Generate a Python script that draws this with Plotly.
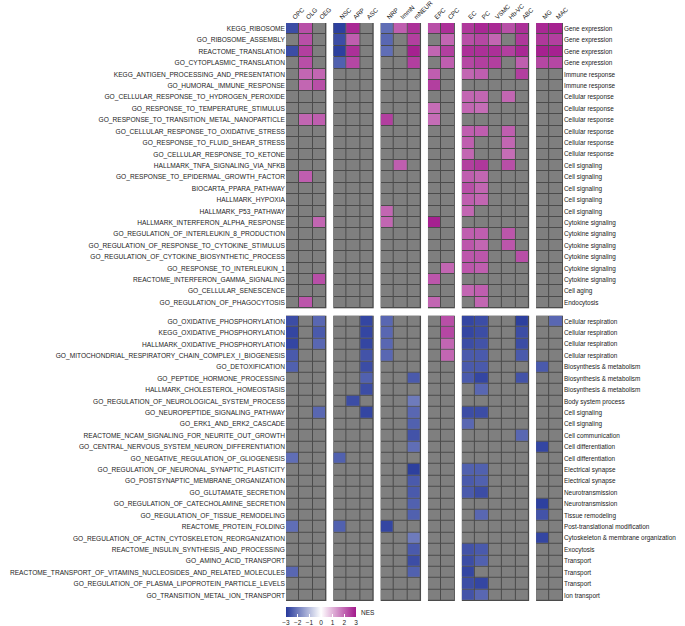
import plotly.graph_objects as go
from plotly.subplots import make_subplots

N = None

# cell types, drawn as six separated groups
groups = [
    ["OPC", "OLG", "OEG"],
    ["NSC", "ARP", "ASC"],
    ["NRP", "ImmN", "mNEUR"],
    ["EPC", "CPC"],
    ["EC", "PC", "VSMC", "Hb-VC", "ABC"],
    ["MG", "MAC"],
]

top_pathways = [
    "KEGG_RIBOSOME",
    "GO_RIBOSOME_ASSEMBLY",
    "REACTOME_TRANSLATION",
    "GO_CYTOPLASMIC_TRANSLATION",
    "KEGG_ANTIGEN_PROCESSING_AND_PRESENTATION",
    "GO_HUMORAL_IMMUNE_RESPONSE",
    "GO_CELLULAR_RESPONSE_TO_HYDROGEN_PEROXIDE",
    "GO_RESPONSE_TO_TEMPERATURE_STIMULUS",
    "GO_RESPONSE_TO_TRANSITION_METAL_NANOPARTICLE",
    "GO_CELLULAR_RESPONSE_TO_OXIDATIVE_STRESS",
    "GO_RESPONSE_TO_FLUID_SHEAR_STRESS",
    "GO_CELLULAR_RESPONSE_TO_KETONE",
    "HALLMARK_TNFA_SIGNALING_VIA_NFKB",
    "GO_RESPONSE_TO_EPIDERMAL_GROWTH_FACTOR",
    "BIOCARTA_PPARA_PATHWAY",
    "HALLMARK_HYPOXIA",
    "HALLMARK_P53_PATHWAY",
    "HALLMARK_INTERFERON_ALPHA_RESPONSE",
    "GO_REGULATION_OF_INTERLEUKIN_8_PRODUCTION",
    "GO_REGULATION_OF_RESPONSE_TO_CYTOKINE_STIMULUS",
    "GO_REGULATION_OF_CYTOKINE_BIOSYNTHETIC_PROCESS",
    "GO_RESPONSE_TO_INTERLEUKIN_1",
    "REACTOME_INTERFERON_GAMMA_SIGNALING",
    "GO_CELLULAR_SENESCENCE",
    "GO_REGULATION_OF_PHAGOCYTOSIS",
]

top_categories = [
    "Gene expression", "Gene expression", "Gene expression", "Gene expression",
    "Immune response", "Immune response",
    "Cellular response", "Cellular response", "Cellular response",
    "Cellular response", "Cellular response", "Cellular response",
    "Cell signaling", "Cell signaling", "Cell signaling", "Cell signaling", "Cell signaling",
    "Cytokine signaling", "Cytokine signaling", "Cytokine signaling",
    "Cytokine signaling", "Cytokine signaling", "Cytokine signaling",
    "Cell aging",
    "Endocytosis",
]

# OPC OLG OEG | NSC ARP ASC | NRP ImmN mNEUR | EPC CPC | EC PC VSMC Hb-VC ABC | MG MAC
top_nes = [
    [-2.7, 2.3, N, -2.9, 2.8, N, -2.2, 2.1, 2.7, 2.3, 2.7, 2.6, 2.8, 2.8, 2.3, 2.7, 2.8, 2.9],
    [N, 2.3, N, -2.7, 2.1, N, -2.3, N, 2.5, N, 2.0, 2.3, 2.4, 2.0, N, 2.6, 2.6, 2.5],
    [-2.7, 2.5, N, -2.9, 2.7, N, -2.2, N, 2.9, 2.0, 2.5, 2.7, 2.7, 2.7, 2.5, 2.8, 2.9, 2.9],
    [N, 2.3, N, -2.4, 2.4, N, N, N, 2.5, N, 2.1, 2.4, 2.5, 2.5, N, 2.1, 2.4, 2.4],
    [N, 2.0, 2.0, N, N, N, N, N, N, 2.1, N, 2.0, 2.1, N, N, 2.5, N, N],
    [N, 2.0, 2.3, N, N, N, N, N, N, 2.5, N, N, N, N, N, N, N, N],
    [N, N, N, N, N, N, N, N, N, N, N, 2.0, 2.0, N, 2.0, N, N, N],
    [N, N, N, N, N, N, N, N, N, 1.9, N, 2.0, 1.9, N, N, N, N, N],
    [N, 2.0, 2.1, N, N, N, 2.5, N, N, 1.9, N, N, N, N, N, N, N, N],
    [N, N, N, N, N, N, N, N, N, N, N, 2.1, 2.1, N, 2.1, N, N, N],
    [N, N, N, N, N, N, N, N, N, N, N, 2.1, N, N, 2.0, N, N, N],
    [N, N, N, N, N, N, N, N, N, N, N, 2.0, N, N, 1.9, N, N, N],
    [N, N, N, N, N, N, N, 2.1, N, N, N, 2.5, 2.6, N, 2.3, N, N, N],
    [N, 2.1, N, N, N, N, N, N, N, N, N, 2.1, 2.0, N, N, N, N, N],
    [N, N, N, N, N, N, N, N, N, N, N, 2.3, 2.0, N, N, N, N, N],
    [N, N, N, N, N, N, N, N, N, N, N, 2.1, 2.0, N, N, N, N, N],
    [N, N, N, N, N, N, 2.0, N, N, N, N, 2.0, N, N, N, N, N, N],
    [N, N, 2.0, N, N, N, 2.0, N, N, 2.9, N, N, N, N, N, N, N, N],
    [N, N, N, N, N, N, N, N, N, N, N, 2.1, 2.1, N, 2.2, N, N, N],
    [N, N, N, N, N, N, N, N, N, N, N, 2.2, 2.0, N, 2.2, N, N, N],
    [N, N, N, N, N, N, N, N, N, N, N, 2.2, 2.2, N, N, 2.3, N, N],
    [N, N, N, N, N, N, N, N, N, N, 2.0, 2.2, 2.1, N, N, N, N, N],
    [N, N, 2.3, N, N, N, N, N, N, 2.2, N, N, N, N, N, N, N, N],
    [N, N, N, N, N, N, N, N, N, N, N, 2.0, 2.1, N, N, N, N, N],
    [N, 2.2, N, N, N, N, N, N, N, 2.0, N, N, 2.0, N, N, N, N, N],
]

bottom_pathways = [
    "GO_OXIDATIVE_PHOSPHORYLATION",
    "KEGG_OXIDATIVE_PHOSPHORYLATION",
    "HALLMARK_OXIDATIVE_PHOSPHORYLATION",
    "GO_MITOCHONDRIAL_RESPIRATORY_CHAIN_COMPLEX_I_BIOGENESIS",
    "GO_DETOXIFICATION",
    "GO_PEPTIDE_HORMONE_PROCESSING",
    "HALLMARK_CHOLESTEROL_HOMEOSTASIS",
    "GO_REGULATION_OF_NEUROLOGICAL_SYSTEM_PROCESS",
    "GO_NEUROPEPTIDE_SIGNALING_PATHWAY",
    "GO_ERK1_AND_ERK2_CASCADE",
    "REACTOME_NCAM_SIGNALING_FOR_NEURITE_OUT_GROWTH",
    "GO_CENTRAL_NERVOUS_SYSTEM_NEURON_DIFFERENTIATION",
    "GO_NEGATIVE_REGULATION_OF_GLIOGENESIS",
    "GO_REGULATION_OF_NEURONAL_SYNAPTIC_PLASTICITY",
    "GO_POSTSYNAPTIC_MEMBRANE_ORGANIZATION",
    "GO_GLUTAMATE_SECRETION",
    "GO_REGULATION_OF_CATECHOLAMINE_SECRETION",
    "GO_REGULATION_OF_TISSUE_REMODELING",
    "REACTOME_PROTEIN_FOLDING",
    "GO_REGULATION_OF_ACTIN_CYTOSKELETON_REORGANIZATION",
    "REACTOME_INSULIN_SYNTHESIS_AND_PROCESSING",
    "GO_AMINO_ACID_TRANSPORT",
    "REACTOME_TRANSPORT_OF_VITAMINS_NUCLEOSIDES_AND_RELATED_MOLECULES",
    "GO_REGULATION_OF_PLASMA_LIPOPROTEIN_PARTICLE_LEVELS",
    "GO_TRANSITION_METAL_ION_TRANSPORT",
]

bottom_categories = [
    "Cellular respiration", "Cellular respiration", "Cellular respiration", "Cellular respiration",
    "Biosynthesis & metabolism", "Biosynthesis & metabolism", "Biosynthesis & metabolism",
    "Body system process",
    "Cell signaling", "Cell signaling",
    "Cell communication",
    "Cell differentiation", "Cell differentiation",
    "Electrical synapse", "Electrical synapse",
    "Neurotransmission", "Neurotransmission",
    "Tissue remodeling",
    "Post-translational modification",
    "Cytoskeleton & membrane organization",
    "Exocytosis",
    "Transport", "Transport", "Transport",
    "Ion transport",
]

bottom_nes = [
    [-2.7, N, -2.3, N, N, -2.8, -2.3, N, N, N, 2.3, -2.8, -2.7, N, N, -2.9, N, -2.3],
    [-2.8, N, -2.5, N, N, -2.8, -2.3, N, N, N, 2.4, -2.8, -2.7, N, N, -2.7, N, N],
    [-2.8, N, -2.3, N, N, -2.8, -2.3, N, N, N, 2.0, -2.7, -2.6, N, N, -2.7, N, N],
    [-2.5, N, N, N, N, -2.6, -2.3, N, N, N, 2.0, -2.5, -2.5, N, N, -2.5, N, N],
    [-2.4, N, N, N, N, -2.7, N, N, N, N, N, -2.5, -2.5, N, N, N, -2.5, N],
    [N, N, N, N, N, -2.4, N, N, -2.5, N, N, -2.5, -2.8, N, N, -2.6, N, N],
    [N, N, N, N, N, -2.7, N, N, N, N, N, N, -2.3, N, N, N, N, N],
    [N, N, N, N, -2.7, N, N, N, -2.0, N, N, N, N, N, N, N, N, N],
    [N, N, -2.3, N, N, -2.8, N, N, -2.3, N, N, -2.7, -2.7, N, N, N, N, N],
    [N, N, N, N, N, N, N, N, -2.4, N, N, -2.3, N, N, N, N, N, N],
    [N, N, N, N, N, N, N, N, -2.6, N, N, N, N, N, N, -2.3, N, N],
    [N, N, N, N, N, N, N, N, -2.2, N, N, N, N, N, N, N, -2.8, N],
    [-2.2, N, N, -2.4, N, N, N, N, N, N, N, N, N, N, N, N, N, N],
    [N, N, N, N, N, N, N, N, -2.9, N, N, -2.4, -2.4, N, N, N, N, N],
    [N, N, N, N, N, N, N, N, -2.5, N, N, -2.5, -2.4, N, N, N, N, N],
    [N, N, N, N, N, N, N, N, -2.5, N, N, -2.5, -2.7, N, N, N, N, N],
    [N, N, N, N, N, N, N, N, -2.4, N, N, N, N, N, N, N, -2.9, N],
    [N, N, N, N, N, N, N, N, -2.4, N, N, N, -2.3, N, N, N, -2.6, N],
    [-2.2, N, N, -2.4, N, N, -2.8, N, N, N, N, N, N, N, N, N, N, N],
    [N, N, N, N, N, N, N, N, -2.0, N, N, N, N, N, N, N, -2.8, N],
    [N, N, N, N, N, N, N, N, -2.5, N, N, -2.6, -2.5, N, N, N, N, N],
    [N, N, N, N, N, N, N, N, -2.7, N, N, -2.7, -2.4, N, N, N, N, N],
    [-2.3, N, N, N, N, N, N, N, -2.4, N, N, -2.8, N, N, N, N, N, N],
    [N, N, N, N, N, N, N, N, N, N, N, -2.7, -2.8, N, N, N, N, N],
    [N, N, N, N, N, N, N, N, N, N, N, -2.6, -2.3, N, N, N, N, N],
]

blocks = [
    (top_pathways, top_categories, top_nes),
    (bottom_pathways, bottom_categories, bottom_nes),
]

FONT = "Liberation Sans"
GRAY = "#7f7f7f"
LINE = "#4b4b4b"
TXT = "#222"

fig = make_subplots(
    rows=2, cols=len(groups),
    column_widths=[len(g) for g in groups],
    row_heights=[1, 1],
    horizontal_spacing=0.025,
    vertical_spacing=0.0128,
)

for b, (pathways, categories, nes) in enumerate(blocks):
    rows = list(range(len(pathways)))
    start = 0
    for g, cols in enumerate(groups):
        idx = list(range(start, start + len(cols)))
        start += len(cols)
        z = [[row[i] for i in idx] for row in nes]
        # gray for not significant
        fig.add_trace(go.Heatmap(
            x=cols, y=rows, z=[[0] * len(cols) for _ in rows],
            colorscale=[[0, GRAY], [1, GRAY]], showscale=False,
            xgap=1, ygap=1, hoverinfo="skip",
        ), row=b + 1, col=g + 1)
        fig.add_trace(go.Heatmap(
            x=cols, y=rows, z=z, coloraxis="coloraxis",
            xgap=1, ygap=1,
            customdata=[[p] * len(cols) for p in pathways],
            hovertemplate="%{customdata}<br>%{x}: %{z}<extra></extra>",
        ), row=b + 1, col=g + 1)

        fig.update_xaxes(
            showticklabels=(b == 0), side="top", tickangle=-45,
            ticks="", showgrid=False, zeroline=False, automargin=False,
            tickfont=dict(size=6.3, color=TXT),
            row=b + 1, col=g + 1,
        )
        yopts = dict(
            autorange="reversed", ticks="", showgrid=False, zeroline=False,
            automargin=False, tickvals=rows, showticklabels=False,
        )
        if g == 0:
            yopts.update(showticklabels=True, ticktext=pathways,
                         tickfont=dict(size=6.6, color=TXT))
        elif g == len(groups) - 1:
            yopts.update(showticklabels=True, ticktext=categories, side="right",
                         tickfont=dict(size=6.4, color=TXT))
        fig.update_yaxes(row=b + 1, col=g + 1, **yopts)

fig.add_annotation(
    text="NES", xref="paper", yref="paper", x=0.262, y=-0.0105,
    xanchor="left", yanchor="top", showarrow=False,
    font=dict(size=6.5, color=TXT),
)

fig.update_layout(
    width=685,
    height=626,
    margin=dict(l=286, r=122, t=23, b=25, autoexpand=False),
    paper_bgcolor="white",
    plot_bgcolor=LINE,
    font=dict(family=FONT, size=7, color=TXT),
    coloraxis=dict(
        cmin=-3, cmax=3,
        colorscale=[[0, "#26399b"], [0.5, "#ffffff"], [1, "#a3198c"]],
        colorbar=dict(
            orientation="h",
            x=0, xanchor="left", y=-0.011, yanchor="top",
            len=70, lenmode="pixels", thickness=10,
            xpad=0, ypad=0, outlinewidth=0,
            tickvals=[-3, -2, -1, 0, 1, 2, 3], tickangle=0,
            ticks="inside", ticklen=3, tickcolor="white",
            tickfont=dict(size=6.5, color=TXT),
        ),
    ),
    showlegend=False,
)

# drop the page's default body margin so the figure sits at the corner
fig.write_html(
    "out.html",
    config={"displayModeBar": False},
    post_script="document.body.style.margin = '0';",
)
